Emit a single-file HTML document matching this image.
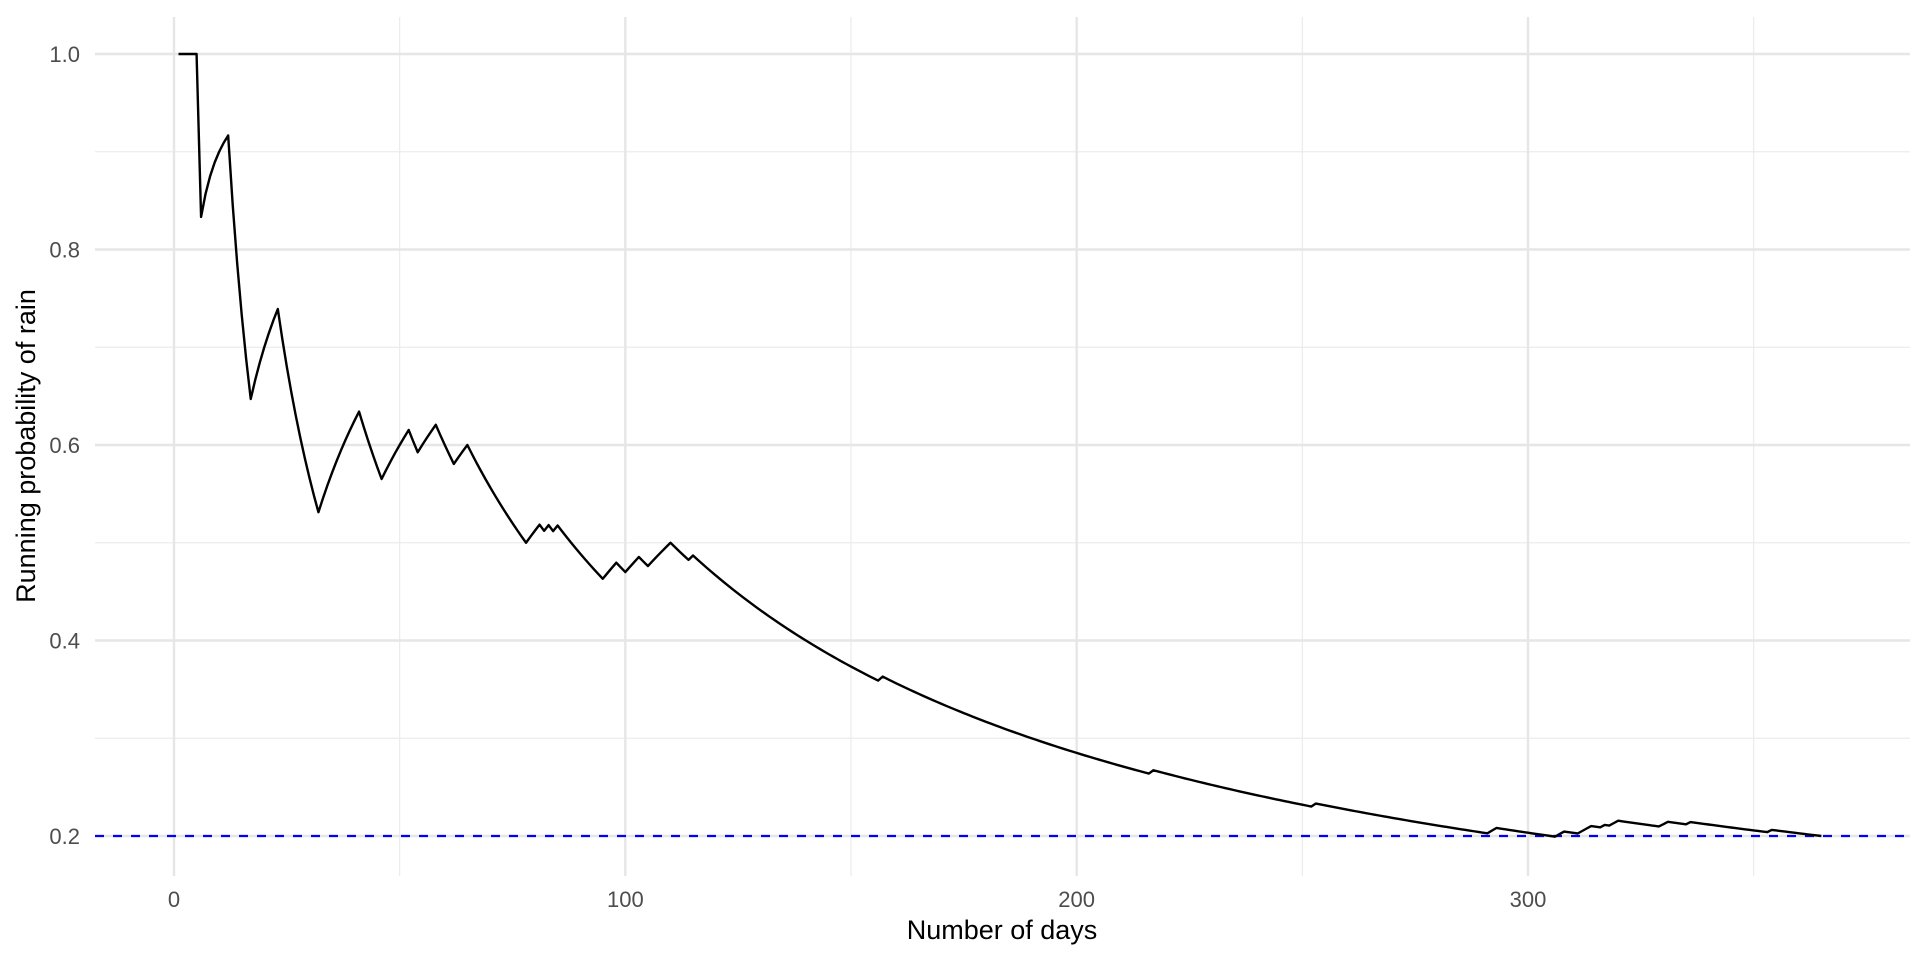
<!DOCTYPE html>
<html><head><meta charset="utf-8"><style>
html,body{margin:0;padding:0;background:#fff;}
svg{display:block;font-family:"Liberation Sans",Arial,sans-serif;}
</style></head><body>
<svg id="chart" width="1920" height="960" viewBox="0 0 1920 960" xmlns="http://www.w3.org/2000/svg">
<g id="grid"></g>
<g id="axes"></g>
<g id="series"></g>
<text x="1002" y="939" font-size="27" text-anchor="middle" fill="#000">Number of days</text>
<text transform="translate(35,446) rotate(-90)" font-size="27" text-anchor="middle" fill="#000">Running probability of rain</text>
</svg>
<script>
const totalDays = 365;
const rainDays = [1,2,3,4,5,7,8,9,10,11,12,18,19,20,21,22,23,33,34,35,36,37,38,39,40,41,
47,48,49,50,51,52,55,56,57,58,63,64,65,79,80,81,83,85,96,97,98,101,102,103,106,107,108,109,110,
115,157,217,253,292,293,307,308,312,313,314,317,319,320,330,331,336,354];
const baseline = 0.2;
const xTicks = [0,100,200,300];
const xMinor = [50,150,250,350];
const yTicks = [0.2,0.4,0.6,0.8,1.0];
const yMinor = [0.3,0.5,0.7,0.9];

const NS="http://www.w3.org/2000/svg";
const X0=174, X300=1528, Y1=54, Y02=836;
const sx=v=>X0+(v-0)*(X300-X0)/300;
const sy=v=>Y02-(v-0.2)*(Y02-Y1)/0.8;
const L=95, R=1910, T=17, B=876;
function mk(tag,attrs,parent){const e=document.createElementNS(NS,tag);for(const k in attrs)e.setAttribute(k,attrs[k]);parent.appendChild(e);return e;}
const grid=document.getElementById('grid'), axes=document.getElementById('axes'), series=document.getElementById('series');

yMinor.forEach(v=>{const l=mk('line',{x1:L,x2:R,y1:sy(v),y2:sy(v),stroke:'#ebebeb','stroke-width':1.2},grid);

});
xMinor.forEach(v=>{const l=mk('line',{x1:sx(v),x2:sx(v),y1:T,y2:B,stroke:'#ebebeb','stroke-width':1.2},grid);

});
yTicks.forEach(v=>{const l=mk('line',{x1:L,x2:R,y1:sy(v),y2:sy(v),stroke:'#e6e6e6','stroke-width':2.4},grid);


const t=mk('text',{x:80,y:sy(v)+8,'font-size':22,'text-anchor':'end',fill:'#4d4d4d'},axes);
t.textContent=v.toFixed(1);

});
xTicks.forEach(v=>{const l=mk('line',{x1:sx(v),x2:sx(v),y1:T,y2:B,stroke:'#e6e6e6','stroke-width':2.4},grid);


const t=mk('text',{x:sx(v),y:907,'font-size':22,'text-anchor':'middle',fill:'#4d4d4d'},axes);
t.textContent=v;

});

const rainSet=new Set(rainDays);
let c=0, pts=[];
for(let d=1;d<=totalDays;d++){ if(rainSet.has(d)) c++; pts.push(sx(d).toFixed(2)+','+sy(c/d).toFixed(2)); }
const bl=mk('line',{x1:L,x2:R,y1:sy(baseline),y2:sy(baseline),stroke:'#0000ff','stroke-width':2.2,'stroke-dasharray':'9,9'},series);


const pl=mk('polyline',{points:pts.join(' '),fill:'none',stroke:'#000','stroke-width':2.4,'stroke-linejoin':'round'},series);


</script>
</body></html>
